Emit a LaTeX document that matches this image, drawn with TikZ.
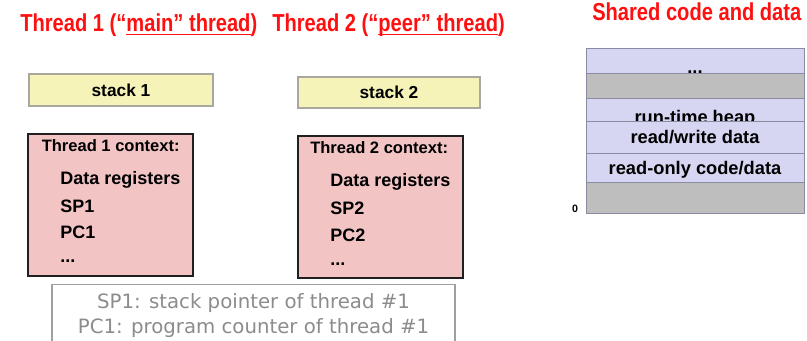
\documentclass[tikz,border=0pt]{standalone}
\usepackage{fontspec}
\setmainfont{Liberation Sans}
\newfontfamily\narrowfont[FakeStretch=0.82]{Liberation Sans}
\newfontfamily\legendfont{DejaVu Sans}
\definecolor{titlered}{HTML}{FF1010}
\definecolor{stackyellow}{HTML}{F5F3B8}
\definecolor{stackline}{HTML}{A8A8A0}
\definecolor{ctxpink}{HTML}{F2C4C4}
\definecolor{ctxline}{HTML}{202020}
\definecolor{memlav}{HTML}{D6D6F3}
\definecolor{memgray}{HTML}{BEBEBE}
\definecolor{memline}{HTML}{8A8AA0}
\definecolor{legendgray}{HTML}{8C8C8C}
\definecolor{legendline}{HTML}{A0A0A0}
\newcommand\ulx[1]{\underline{\smash{#1}}}
\tikzset{
  title/.style={inner sep=0pt, anchor=base west, text=titlered, font=\narrowfont\bfseries\fontsize{18.4pt}{20pt}\selectfont},
  stackbox/.style={draw=stackline, line width=0.8pt, fill=stackyellow, inner sep=0pt, font=\bfseries\fontsize{13pt}{15pt}\selectfont},
  ctxbox/.style={draw=ctxline, line width=1.5pt, fill=ctxpink, inner sep=0pt},
  ctxhead/.style={inner sep=0pt, anchor=base west, font=\bfseries\fontsize{12.4pt}{14pt}\selectfont},
  ctxitem/.style={inner sep=0pt, anchor=base west, font=\bfseries\fontsize{13.5pt}{15pt}\selectfont},
  memlabel/.style={inner sep=0pt, anchor=base, font=\bfseries\fontsize{13.7pt}{15pt}\selectfont},
  memlavseg/.style={fill=memlav, draw=memline, line width=0.6pt},
  memgrayseg/.style={fill=memgray, draw=memline, line width=0.6pt},
  legendtext/.style={inner sep=0pt, anchor=base, text=legendgray, font=\legendfont\fontsize{14.8pt}{17pt}\selectfont},
}
\begin{document}
\begin{tikzpicture}[x=0.75pt,y=-0.75pt]
\useasboundingbox (0,0) rectangle (807,341);
\fill[white] (0,0) rectangle (807,341);

% titles
\node[title] (t1) at (20,32) {Thread 1 (“\ulx{main” thread})};
\node[title] (t2) at (272,32) {Thread 2 (“\ulx{peer” thread})};
\node[title] (t3) at (592,21) {Shared code and data};

% stacks
\node[stackbox, minimum width=138pt, minimum height=24pt] (s1) at (121,90) {stack 1};
\node[stackbox, minimum width=136.5pt, minimum height=23.25pt] (s2) at (389,92.5) {stack 2};

% contexts
\node[ctxbox, minimum width=123.75pt, minimum height=106.5pt] (c1) at (110.5,205) {};
\node[ctxbox, minimum width=123.75pt, minimum height=106.5pt] (c2) at (380.5,207) {};

\node[ctxhead] (c1h) at (41.5,151.5) {Thread 1 context:};
\node[ctxitem] (c1a) at (60,185) {Data registers};
\node[ctxitem] (c1b) at (60,212.5) {SP1};
\node[ctxitem] (c1c) at (60,239) {PC1};
\node[ctxitem] (c1d) at (60,263) {...};

\node[ctxhead] (c2h) at (310,153.5) {Thread 2 context:};
\node[ctxitem] (c2a) at (330,187) {Data registers};
\node[ctxitem] (c2b) at (330,215) {SP2};
\node[ctxitem] (c2c) at (330,242) {PC2};
\node[ctxitem] (c2d) at (330,266) {...};

% shared memory
\filldraw[memlavseg] (586,48) rectangle (804,73);
\node[memlabel] (mdots) at (695,74) {...};
\filldraw[memgrayseg] (586,73) rectangle (804,98);
\filldraw[memlavseg] (586,98) rectangle (804,121);
\node[memlabel] (mheap) at (695,123.5) {run-time heap};
\filldraw[memlavseg] (586,121) rectangle (804,153);
\node[memlabel] (mrw) at (695,143.5) {read/write data};
\filldraw[memlavseg] (586,153) rectangle (804,182);
\node[memlabel] (mro) at (695,175) {read-only code/data};
\filldraw[memgrayseg] (586,182) rectangle (804,213);
\node[inner sep=0pt, anchor=base, font=\bfseries\fontsize{8pt}{9pt}\selectfont] (zero) at (575,213) {0};

% legend
\draw[legendline, line width=1.2pt] (52,342) |- (455,284.5) -- (455,342);
\node[legendtext] (l1) at (253.5,309) {SP1: stack pointer of thread \#1};
\node[legendtext] (l2) at (253.5,334) {PC1: program counter of thread \#1};
\end{tikzpicture}
\end{document}
